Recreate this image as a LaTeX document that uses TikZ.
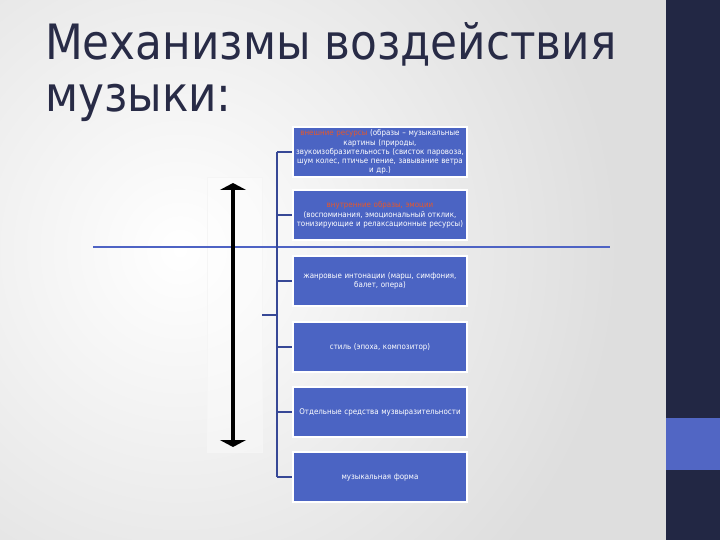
\documentclass[tikz,border=0pt]{standalone}
\usepackage{fontspec}
\setmainfont{DejaVu Sans}
\newfontfamily\titlefont{DejaVu Sans Condensed}
\newfontfamily\boxfont{DejaVu Sans Condensed}
\usetikzlibrary{arrows.meta}
\definecolor{panel}{RGB}{34,39,68}
\definecolor{accent}{RGB}{81,102,196}
\definecolor{boxblue}{RGB}{75,100,195}
\definecolor{treeblue}{RGB}{55,72,150}
\definecolor{hblue}{RGB}{78,99,196}
\definecolor{titlecol}{RGB}{40,43,70}
\definecolor{orangetxt}{RGB}{228,88,44}
\definecolor{bggrey}{RGB}{222,222,222}
\tikzset{
  mbox/.style={draw=white, line width=1.5pt, fill=boxblue, minimum width=170pt, minimum height=50pt,
    text width=174pt, align=center, inner sep=0pt, text=white, font=\boxfont\fontsize{7.9}{9.2}\selectfont},
  tree/.style={draw=treeblue, line width=2pt},
  titletext/.style={anchor=base west, inner sep=0pt, text=titlecol, font=\titlefont\fontsize{48.7}{52}\selectfont},
}
\begin{document}
\begin{tikzpicture}[x=1pt,y=-1pt]
\useasboundingbox (0,0) rectangle (720,540);
% background
\fill[bggrey] (0,0) rectangle (666,540);
\shade[inner color=white, outer color=bggrey] (-260,-200) rectangle (620,700);
\fill[bggrey] (640,0) rectangle (666,540);
\fill[panel] (666,0) rectangle (720,540);
\fill[accent] (666,418) rectangle (720,470);
% title
\node[titletext] (t1) at (45,60) {Механизмы воздействия};
\node[titletext] (t2) at (45,112) {музыки:};
% faint frame behind arrow
\node[draw=black!4, fill=white, fill opacity=0.35, minimum width=55pt, minimum height=275pt, inner sep=0pt] (fr) at (234.5,314.5) {};
% horizontal line
\coordinate (hl) at (93,247);
\coordinate (hr) at (610,247);
\draw[hblue, line width=2.3pt] (hl) -- (hr);
% arrow
\coordinate (at) at (233,183);
\coordinate (ab) at (233,447);
\draw[line width=4pt, {Triangle[width=26pt,length=7pt]}-{Triangle[width=26pt,length=7pt]}] (at) -- (ab);
% boxes
\node[mbox] (b1) at (380,152) {{\color{orangetxt}внешние ресурсы} (образы – музыкальные\\картины (природы,\\звукоизобразительность (свисток паровоза,\\шум колес, птичье пение, завывание ветра\\и др.)};
\node[mbox] (b2) at (380,215) {{\color{orangetxt}внутренние образы, эмоции}\\[1pt](воспоминания, эмоциональный отклик,\\тонизирующие и релаксационные ресурсы)};
\node[mbox] (b3) at (380,281) {жанровые интонации (марш, симфония,\\балет, опера)};
\node[mbox] (b4) at (380,347) {стиль (эпоха, композитор)};
\node[mbox] (b5) at (380,412) {Отдельные средства музвыразительности};
\node[mbox] (b6) at (380,477) {музыкальная форма};
% tree
\coordinate (tr) at (277,315);
\coordinate (st) at (262,315);
\draw[tree] (tr |- b1.west) -- (tr |- b6.west);
\draw[tree] (st) -- (tr);
\foreach \b in {b1,b2,b3,b4,b5,b6}{
  \draw[tree] (tr |- \b.west) -- (\b.west);
}
\end{tikzpicture}
\end{document}
